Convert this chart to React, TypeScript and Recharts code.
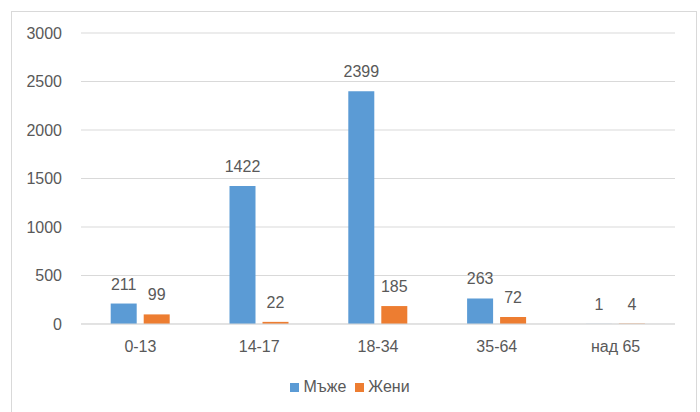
import { BarChart, Bar, XAxis, YAxis, CartesianGrid, Legend, LabelList } from 'recharts'

const categories = ['0-13', '14-17', '18-34', '35-64', 'над 65']
const men = [211, 1422, 2399, 263, 1]
const women = [99, 22, 185, 72, 4]
const yTicks = [0, 500, 1000, 1500, 2000, 2500, 3000]

const SERIES = [
  { key: 'men', label: 'Мъже', color: '#5B9BD5' },
  { key: 'women', label: 'Жени', color: '#ED7D31' },
]

const data = categories.map((c, i) => ({ name: c, men: men[i], women: women[i] }))

const FONT = '"Liberation Sans", Arial, sans-serif'
const TEXT = '#595959'

function LegendBox() {
  return (
    <div style={{ display: 'flex', justifyContent: 'center', gap: 9, fontFamily: FONT, fontSize: 16, color: TEXT }}>
      {SERIES.map(s => (
        <div key={s.key} style={{ display: 'flex', alignItems: 'center', gap: 4 }}>
          <span style={{ width: 9, height: 9, background: s.color, display: 'inline-block' }} />
          <span>{s.label}</span>
        </div>
      ))}
    </div>
  )
}

export default function App() {
  return (
    <div style={{ position: 'absolute', left: 0, top: 0, width: 700, height: 412, background: '#fff', overflow: 'hidden' }}>
      <div style={{
        position: 'absolute', left: 11, top: 11, width: 686, height: 420,
        border: '1px solid #d9d9d9', boxSizing: 'border-box',
      }} />
      <BarChart
        width={700}
        height={412}
        data={data}
        margin={{ top: 33, right: 25, bottom: 58, left: 21 }}
        barCategoryGap="25%"
        barGap={7}
        style={{ position: 'absolute', left: 0, top: 0, fontFamily: FONT }}
      >
        <CartesianGrid vertical={false} stroke="#d9d9d9" />
        <XAxis
          dataKey="name"
          height={30}
          axisLine={{ stroke: '#d9d9d9' }}
          tickLine={false}
          tickSize={0}
          tickMargin={17}
          tick={{ fontSize: 16, fill: TEXT }}
        />
        <YAxis
          width={60}
          domain={[0, 3000]}
          ticks={yTicks}
          axisLine={false}
          tickLine={false}
          tickSize={0}
          tickMargin={19}
          tick={{ fontSize: 16, fill: TEXT }}
        />
        <Legend
          layout="vertical"
          align="center"
          verticalAlign="middle"
          wrapperStyle={{ top: 378, left: 0, width: 700 }}
          content={() => <LegendBox />}
        />
        {SERIES.map(s => (
          <Bar key={s.key} dataKey={s.key} name={s.label} fill={s.color} isAnimationActive={false}>
            <LabelList dataKey={s.key} position="top" offset={14} fill={TEXT} fontSize={16} />
          </Bar>
        ))}
      </BarChart>
    </div>
  )
}
